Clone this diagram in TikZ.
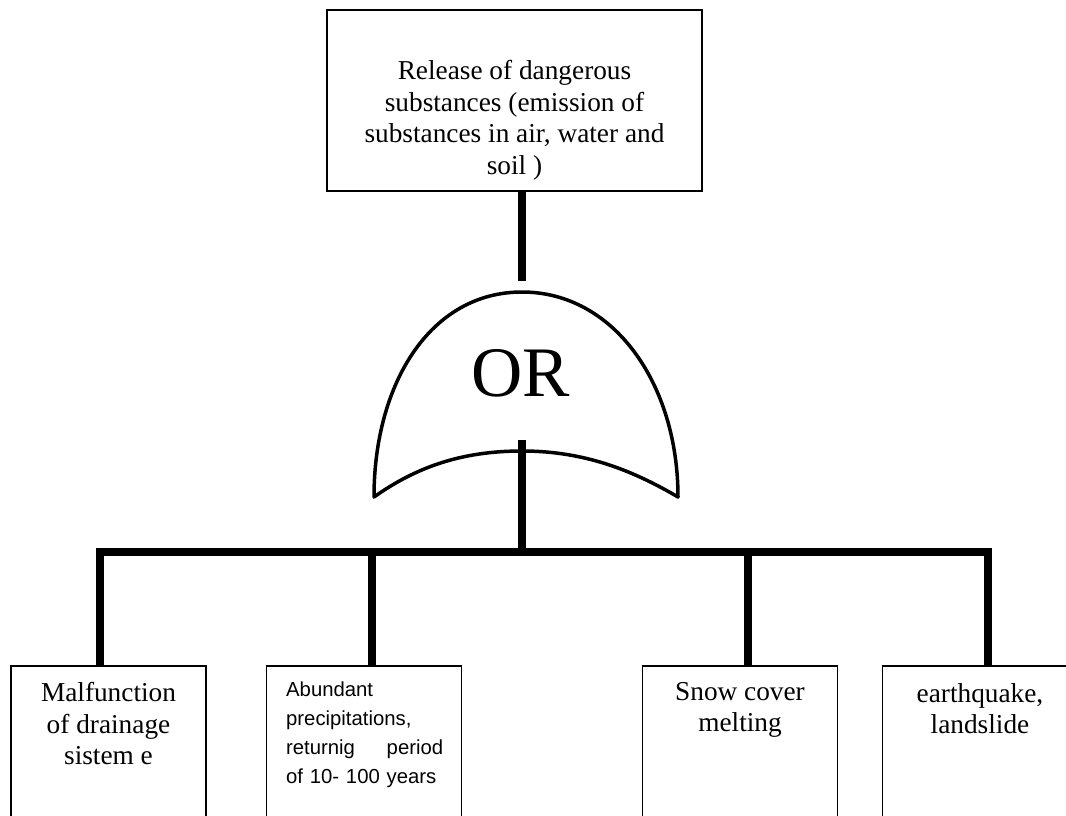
\documentclass[tikz,border=0pt]{standalone}
\usepackage{fontspec}
\setmainfont{Liberation Serif}
\newfontfamily\arialfont{Liberation Sans}
\tikzset{
	evbox/.style={draw, line width=1.6pt, minimum width=195pt, minimum height=200pt, inner sep=0pt},
	conn/.style={line width=7.5pt},
	gate/.style={line width=3.5pt, line join=round},
	evtext/.style={anchor=north, align=center, inner sep=0pt, font=\fontsize{27.3}{31.6}\selectfont}
}
\begin{document}
\begin{tikzpicture}[x=1pt,y=-1pt]
	\useasboundingbox (0,0) rectangle (1066,815);
	\clip (0,0) rectangle (1066,815);

	% top event
	\node[draw, line width=1.6pt, minimum width=375pt, minimum height=181pt] (top) at (514.5,100.5) {};
	\node[evtext] (toptxt) at (514.5,60) {Release of dangerous\\substances (emission of\\substances in air, water and\\soil )};

	% OR gate
	\draw[gate] (374,497) .. controls (374,384) and (430,292) .. (522,292)
		.. controls (614,292) and (678,384) .. (678,497)
		.. controls (632,470) and (584,451) .. (522,451)
		.. controls (460,451) and (415,468) .. (374,497) -- cycle;
	\node[font=\fontsize{71}{80}\selectfont, inner sep=0pt] (or) at (521,373.5) {OR};
	\coordinate (gtop) at (522,281);
	\coordinate (gin) at (522,440);

	% basic events
	\foreach \n/\x in {1/108.5,2/364,3/740,4/980} {
		\node[evbox, anchor=north] (b\n) at (\x,665) {};
	}
	\node[evtext] (t1) at (108.5,682) {Malfunction\\of drainage\\sistem e};
	\node[anchor=north west, align=left, inner sep=0pt, text width=157pt,
		font=\arialfont\fontsize{20.3}{29}\selectfont] (t2) at (286,682)
		{Abundant\\precipitations,\\returnig\hfill period\\of 10- 100 years};
	\node[evtext] (t3) at (740,682) {Snow cover\\melting};
	\node[evtext] (t4) at (980,683) {earthquake,\\landslide};

	% connectors
	\coordinate (j1) at (100,552);
	\coordinate (j2) at (372,552);
	\coordinate (j3) at (748,552);
	\coordinate (j4) at (988,552);
	\draw[conn] (gtop |- top.south) -- (gtop);
	\draw[conn] (gin) -- (gin |- j1);
	\draw[conn] (j1 |- b1.north) -- (j1) -- (j4) -- (j4 |- b4.north);
	\draw[conn] (j2) -- (j2 |- b2.north);
	\draw[conn] (j3) -- (j3 |- b3.north);
\end{tikzpicture}
\end{document}
